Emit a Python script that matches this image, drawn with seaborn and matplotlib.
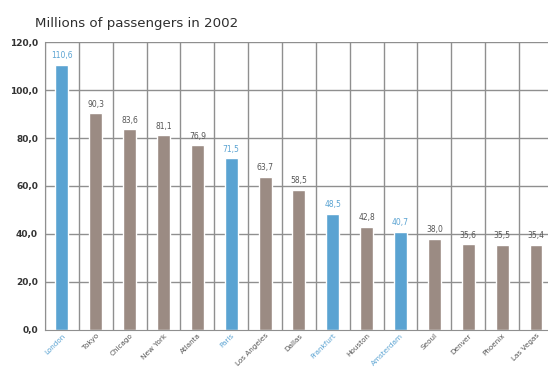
import matplotlib
matplotlib.use("Agg")
import matplotlib.pyplot as plt
import seaborn as sns
import pandas as pd

cities = ["London", "Tokyo", "Chicago", "New York", "Atlanta", "Paris",
          "Los Angeles", "Dallas", "Frankfurt", "Houston", "Amsterdam",
          "Seoul", "Denver", "Phoenix", "Las Vegas"]
passengers = [110.6, 90.3, 83.6, 81.1, 76.9, 71.5, 63.7, 58.5, 48.5,
              42.8, 40.7, 38.0, 35.6, 35.5, 35.4]
european = ["London", "Paris", "Frankfurt", "Amsterdam"]
y_ticks = [0, 20, 40, 60, 80, 100, 120]
title = "Millions of passengers in 2002"

BLUE = "#5aa3d2"
TAUPE = "#9b8b83"
GRID = "#8f8f8f"
TEXT = "#555555"

df = pd.DataFrame({"city": cities, "passengers": passengers})
palette = {c: (BLUE if c in european else TAUPE) for c in cities}

sns.set_style("white")
plt.rcParams["font.family"] = ["DejaVu Sans"]

fig = plt.figure(figsize=(5.48, 3.69), dpi=100)
ax = fig.add_axes([0.082, 0.106, 0.927, 0.780])

sns.barplot(data=df, x="city", y="passengers", hue="city", palette=palette,
            width=0.38, legend=False, ax=ax, saturation=1)

ax.set_ylim(0, 120)
ax.set_xlim(-0.5, len(cities) - 0.5)
ax.set_yticks(y_ticks)
ax.set_yticklabels([f"{v:.1f}".replace(".", ",") for v in y_ticks],
                   fontsize=6.5, color="#333333", fontweight="bold")

# category borders and horizontal grid
for i in range(len(cities) + 1):
    ax.axvline(i - 0.5, color=GRID, lw=1.0, zorder=0)
for v in y_ticks[1:]:
    ax.axhline(v, color=GRID, lw=1.0, zorder=0)

for s in ["top", "right"]:
    ax.spines[s].set_visible(False)
ax.spines["left"].set_color(GRID)
ax.spines["bottom"].set_color(GRID)
ax.tick_params(axis="y", length=3, width=1, color="#555555", pad=2)
ax.tick_params(axis="x", length=0, pad=2)

ax.set_xlabel("")
ax.set_ylabel("")
ax.set_xticks(range(len(cities)))
ax.set_xticklabels(cities, rotation=45, ha="right", rotation_mode="anchor",
                   fontsize=5.2)
for lbl in ax.get_xticklabels():
    lbl.set_color(BLUE if lbl.get_text() in european else TEXT)

# value labels above bars
for i, (c, v) in enumerate(zip(cities, passengers)):
    ax.text(i, v + 2.0, f"{v:.1f}".replace(".", ","), ha="center",
            va="bottom", fontsize=5.5,
            color=BLUE if c in european else TEXT)

fig.text(0.064, 0.918, title, fontsize=9.6, color="#2e2e2e", ha="left",
         va="bottom")

fig.savefig("out.png", dpi=100)
